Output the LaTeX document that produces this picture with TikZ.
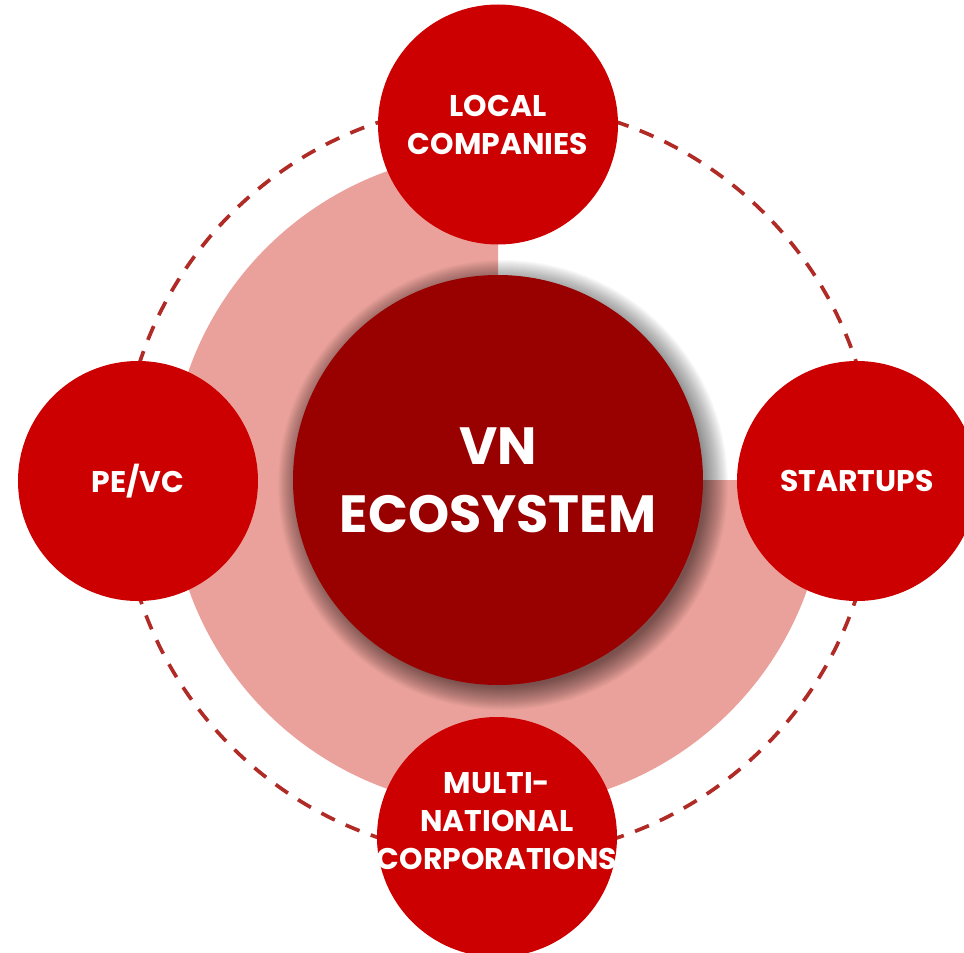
\documentclass[tikz,border=0pt]{standalone}
\usepackage{fontspec}
\setmainfont{Poppins}

\definecolor{hubred}{RGB}{153,0,0}
\definecolor{memberred}{RGB}{204,0,0}
\definecolor{ringpink}{RGB}{235,161,155}
\definecolor{dashred}{RGB}{176,42,38}

\begin{document}
\begin{tikzpicture}[
  hub/.style={circle, fill=hubred, text=white, minimum size=8.2cm, inner sep=0pt,
    align=center, font=\fontsize{29.8}{38.7}\selectfont\bfseries},
  member/.style={circle, fill=memberred, text=white, minimum size=4.8cm, inner sep=0pt,
    align=center, font=\fontsize{17}{21.6}\selectfont\bfseries},
  membertext/.style={text=white, align=center, inner sep=0pt,
    font=\fontsize{17}{21.6}\selectfont\bfseries},
  orbit/.style={draw=dashred, line width=2.1pt, dash pattern=on 0.3cm off 0.24cm},
]
  \useasboundingbox (-9.96,-9.44) rectangle (9.32,9.6);

  \fill[ringpink] (0,0) -- (0,6.56) arc[start angle=90, end angle=360, radius=6.56] -- cycle;
  \draw[orbit] (0,0) circle (7.54);

  % soft shadow
  \foreach \k in {1,...,24} {
    \fill[black, opacity=0.025] (0.1,-0.1) circle ({4.02+0.02*\k});
  }

  \node[hub] (eco) at (0,0) {VN\\ECOSYSTEM};

  \node[member] (local) at (0,7.11) {LOCAL\\COMPANIES};
  \node[member] (startups) at (7.18,-0.02) {STARTUPS};
  \node[member] (pevc) at (-7.2,-0.02) {PE/VC};
  \node[member] (mnc) at (-0.02,-7.14) {};
  \node[membertext] (mnctext) at ([yshift=0.32cm]mnc.center) {MULTI-\\NATIONAL\\CORPORATIONS};
\end{tikzpicture}
\end{document}
